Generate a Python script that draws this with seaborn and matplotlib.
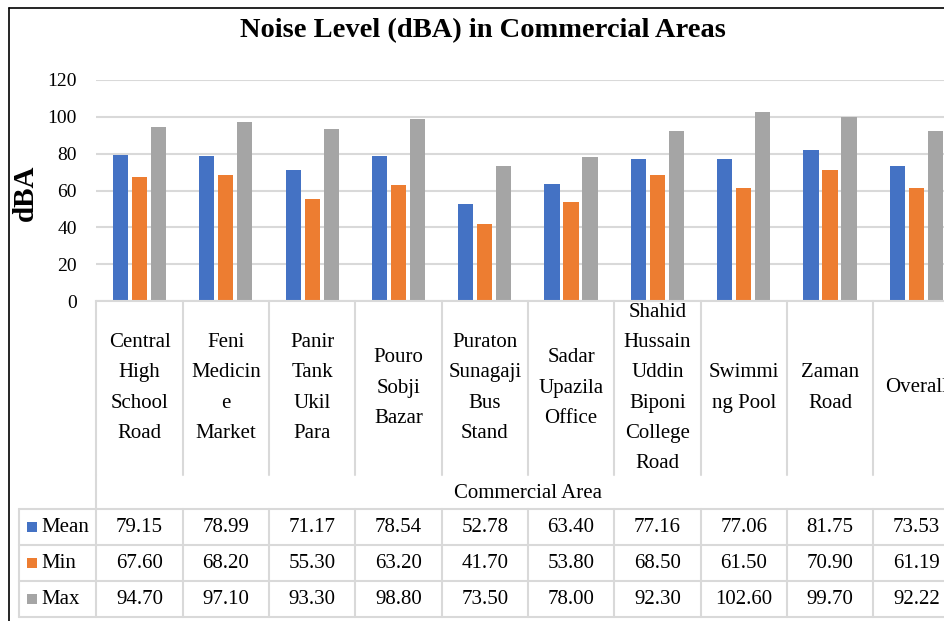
import matplotlib
matplotlib.use("Agg")
import matplotlib.pyplot as plt
from matplotlib.patches import Rectangle
from matplotlib.transforms import blended_transform_factory
import seaborn as sns
import pandas as pd
import numpy as np

# ---------------- data ----------------
categories = [
    "Central\nHigh\nSchool\nRoad",
    "Feni\nMedicin\ne\nMarket",
    "Panir\nTank\nUkil\nPara",
    "Pouro\nSobji\nBazar",
    "Puraton\nSunagaji\nBus\nStand",
    "Sadar\nUpazila\nOffice",
    "Shahid\nHussain\nUddin\nBiponi\nCollege\nRoad",
    "Swimmi\nng Pool",
    "Zaman\nRoad",
    "Overall",
]
series_names = ["Mean", "Min", "Max"]
mean_vals = [79.15, 78.99, 71.17, 78.54, 52.78, 63.40, 77.16, 77.06, 81.75, 73.53]
min_vals = [67.60, 68.20, 55.30, 63.20, 41.70, 53.80, 68.50, 61.50, 70.90, 61.19]
max_vals = [94.70, 97.10, 93.30, 98.80, 73.50, 78.00, 92.30, 102.60, 99.70, 92.22]
y_ticks = [0, 20, 40, 60, 80, 100, 120]
title_text = "Noise Level (dBA) in Commercial Areas"
x_title = "Commercial Area"
y_title = "dBA"
colors = ["#4472C4", "#ED7D31", "#A5A5A5"]

# ---------------- style ----------------
sns.set_theme(style="white")
plt.rcParams["font.family"] = ["Liberation Serif", "DejaVu Serif"]

W, H = 944, 621
fig = plt.figure(figsize=(W / 100, H / 100), dpi=100)
fig.patch.set_facecolor("white")

# overlay in pixel coordinates (y from top)
ov = fig.add_axes([0, 0, 1, 1])
ov.axis("off")
ov.patch.set_alpha(0)

# main plot axes (extends past right edge, like the cropped original)
ax = fig.add_axes([96.4 / W, (H - 301) / H, 863 / W, 221 / H])
ax.patch.set_alpha(0)

n = len(categories)
df = pd.DataFrame({
    "Area": categories * len(series_names),
    "Series": np.repeat(series_names, n),
    "Value": mean_vals + min_vals + max_vals,
})
sns.barplot(data=df, x="Area", y="Value", hue="Series", order=categories,
            hue_order=series_names, palette=colors, saturation=1,
            width=0.66, gap=0.2, linewidth=0, legend=False, ax=ax)

ax.set_xlim(-0.5, n - 0.5)
ax.set_ylim(0, 120)
ax.set_yticks(y_ticks)
ax.set_xticks([])
ax.set_xlabel("")
ax.set_ylabel("")
ax.yaxis.grid(True, color="#D9D9D9", lw=1.5)
ax.set_axisbelow(True)
for s in ["left", "top", "right"]:
    ax.spines[s].set_visible(False)
ax.spines["bottom"].set_color("#D9D9D9")
ax.spines["bottom"].set_linewidth(1.5)
ax.tick_params(axis="y", length=0, pad=14, labelsize=14, labelcolor="black")

# ---------------- table / labels ----------------
tr = blended_transform_factory(ax.transData, ov.transData)
gcol = "#D9D9D9"
y_axis, y_lab_end, y_tab = 301, 475, [509, 545, 581, 617]

for i in range(n + 1):
    x = i - 0.5
    ov.plot([x, x], [y_axis, y_lab_end], transform=tr, color=gcol, lw=1.5)
    ov.plot([x, x], [y_tab[0], y_tab[-1]], transform=tr, color=gcol, lw=1.5)
ov.plot([-0.5, -0.5], [y_lab_end, y_tab[0]], transform=tr, color=gcol, lw=1.5)
ov.plot([19, 19], [y_tab[0], y_tab[-1]], color=gcol, lw=1.5)
for y in y_tab:
    ov.plot([19, W], [y, y], color=gcol, lw=1.5)

for i, c in enumerate(categories):
    ov.text(i, (y_axis + y_lab_end) / 2, c, transform=tr, ha="center", va="center",
            fontsize=15, linespacing=1.8, multialignment="center", color="black")

ov.text((n - 1) / 2, 493, x_title, transform=tr, ha="center", va="center",
        fontsize=15, color="black")

rows = [mean_vals, min_vals, max_vals]
for j, (name, vals) in enumerate(zip(series_names, rows)):
    yc = (y_tab[j] + y_tab[j + 1]) / 2
    ov.add_patch(Rectangle((27, yc - 5), 10, 10, color=colors[j], lw=0))
    ov.text(41, yc, name, ha="left", va="center", fontsize=15, color="black")
    for i, v in enumerate(vals):
        ov.text(i, yc, f"{v:.2f}", transform=tr, ha="center", va="center",
                fontsize=15, color="black")

ov.text(483, 31, title_text, ha="center", va="center", fontsize=20.5,
        fontweight="bold", color="black")
ov.text(25, 193, y_title, ha="center", va="center", rotation=90, fontsize=21,
        fontweight="bold", color="black")

# outer frame (left and top visible)
ov.plot([9, 9], [8, H], color="black", lw=1.2)
ov.plot([9, W], [8, 8], color="black", lw=1.2)

ov.set_xlim(0, W)
ov.set_ylim(H, 0)

fig.savefig("out.png", dpi=100)
